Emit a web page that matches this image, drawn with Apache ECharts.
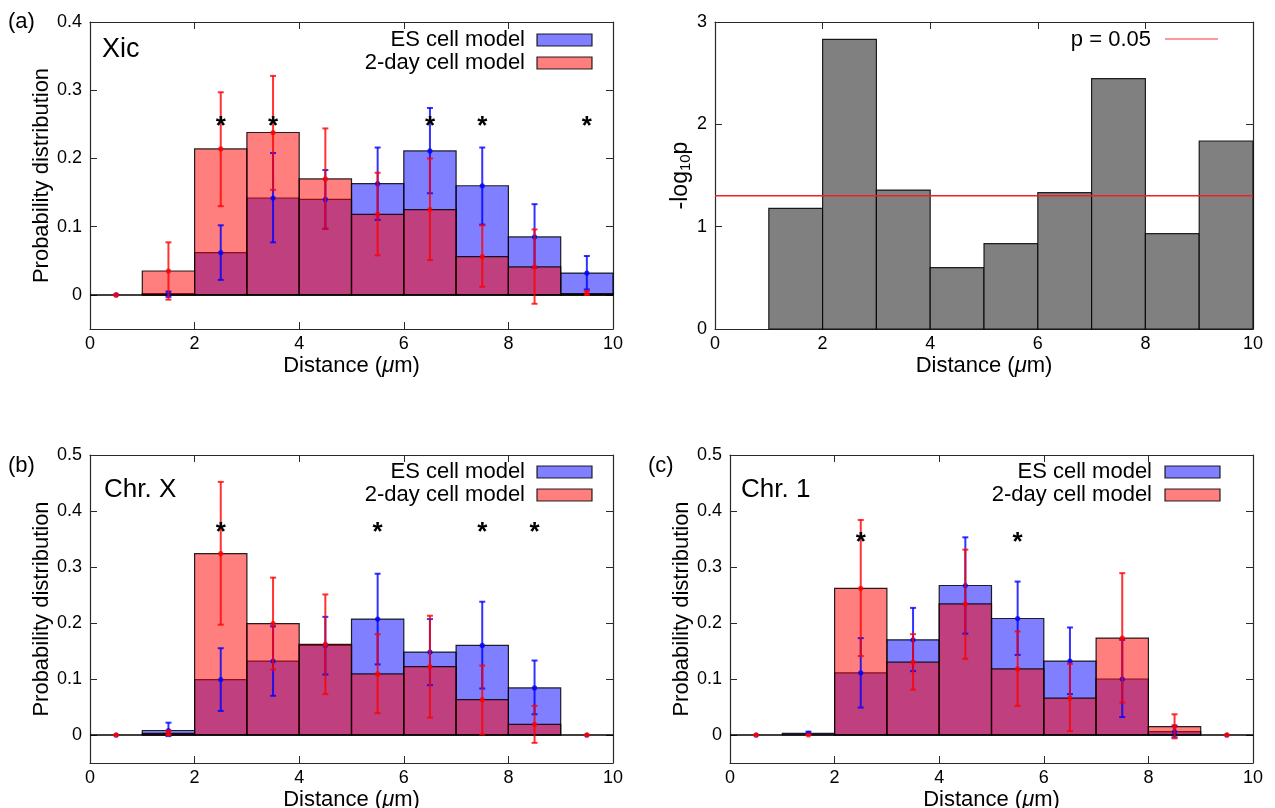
<!DOCTYPE html>
<html>
<head>
<meta charset="utf-8">
<script src="https://cdn.jsdelivr.net/npm/echarts@6/dist/echarts.min.js"></script>
<style>
html,body{margin:0;padding:0;background:#fff;}
#chart{width:1275px;height:808px;}
</style>
</head>
<body>
<div id="chart"></div>
<script>
// ---------------- data ----------------
const binLeft = [0, 1, 2, 3, 4, 5, 6, 7, 8, 9];
const binWidth = 1;
const binCenter = [0.5, 1.5, 2.5, 3.5, 4.5, 5.5, 6.5, 7.5, 8.5, 9.5];

// (a) Xic
const aES    = [0, 0.002, 0.062, 0.142, 0.140, 0.163, 0.211, 0.160, 0.085, 0.032];
const aESlo  = [0, -0.003, 0.022, 0.077, 0.097, 0.110, 0.149, 0.103, 0.040, 0.008];
const aEShi  = [0, 0.005, 0.102, 0.208, 0.183, 0.216, 0.274, 0.216, 0.133, 0.057];
const a2d    = [0, 0.035, 0.214, 0.238, 0.170, 0.118, 0.125, 0.056, 0.041, 0.002];
const a2dlo  = [0, -0.007, 0.130, 0.154, 0.097, 0.058, 0.051, 0.012, -0.013, 0.000];
const a2dhi  = [0, 0.077, 0.297, 0.321, 0.244, 0.179, 0.200, 0.102, 0.096, 0.006];
const aStarX = [2.5, 3.5, 6.5, 7.5, 9.5];
const aStarY = 0.255;

// -log10 p (Xic)
const pVals = [0, 1.179, 2.831, 1.358, 0.599, 0.834, 1.332, 2.446, 0.932, 1.837];
const pThreshold = 1.301; // p = 0.05

// (b) Chr. X
const bES    = [0, 0.008, 0.099, 0.132, 0.160, 0.207, 0.148, 0.160, 0.084, 0];
const bESlo  = [0, -0.002, 0.043, 0.070, 0.108, 0.126, 0.089, 0.083, 0.037, 0];
const bEShi  = [0, 0.022, 0.155, 0.194, 0.211, 0.288, 0.207, 0.238, 0.133, 0];
const b2d    = [0, 0.003, 0.324, 0.199, 0.162, 0.109, 0.122, 0.063, 0.019, 0];
const b2dlo  = [0, 0.000, 0.197, 0.117, 0.073, 0.039, 0.031, 0.001, -0.014, 0];
const b2dhi  = [0, 0.008, 0.452, 0.281, 0.251, 0.180, 0.213, 0.124, 0.052, 0];
const bStarX = [2.5, 5.5, 7.5, 8.5];
const bStarY = 0.372;

// (c) Chr. 1
const cES    = [0, 0.003, 0.111, 0.170, 0.267, 0.208, 0.132, 0.100, 0.006, 0];
const cESlo  = [0, 0.000, 0.049, 0.114, 0.181, 0.143, 0.073, 0.032, -0.004, 0];
const cEShi  = [0, 0.006, 0.173, 0.227, 0.353, 0.274, 0.192, 0.170, 0.017, 0];
const c2d    = [0, 0, 0.262, 0.130, 0.234, 0.118, 0.066, 0.173, 0.015, 0];
const c2dlo  = [0, 0, 0.141, 0.081, 0.136, 0.052, 0.007, 0.058, -0.006, 0];
const c2dhi  = [0, 0, 0.384, 0.180, 0.331, 0.185, 0.127, 0.289, 0.037, 0];
const cStarX = [2.5, 5.5];
const cStarY = 0.354;

const xTicks = [0, 2, 4, 6, 8, 10];
const yTicksA = [0, 0.1, 0.2, 0.3, 0.4];
const yTicksBC = [0, 0.1, 0.2, 0.3, 0.4, 0.5];
const yTicksP = [0, 1, 2, 3];

// ---------------- styles ----------------
const FONT = 'Liberation Sans, Arial, Helvetica, sans-serif';
const FRAME = '#2a2a2a';
const BLUE_FILL = 'rgba(0,0,255,0.5)';
const RED_FILL = 'rgba(255,0,0,0.5)';
const BLUE = 'rgba(0,0,255,0.8)';
const RED = 'rgba(255,0,0,0.8)';

const chart = echarts.init(document.getElementById('chart'), null, {renderer: 'canvas'});

const grids = [
  {left: 90, top: 22, width: 523, height: 307},   // a
  {left: 715, top: 22, width: 538, height: 307},  // p
  {left: 90, top: 455, width: 523, height: 308},  // b
  {left: 730, top: 455, width: 523, height: 308}  // c
].map(g => Object.assign({outerBoundsMode: 'none', containLabel: false, show: false}, g));

const distName = '{n|Distance (}{i|μ}{n|m)}';
const distRich = {
  n: {fontSize: 22, fontFamily: FONT, color: '#000'},
  i: {fontSize: 22, fontFamily: FONT, color: '#000', fontStyle: 'italic'}
};

function xAxes(g) {
  return [
    {
      type: 'value', gridIndex: g, min: 0, max: 10, interval: 2, position: 'bottom',
      axisLine: {show: true, onZero: false, lineStyle: {color: FRAME, width: 1.2}},
      axisTick: {show: true, inside: true, length: 7, lineStyle: {color: FRAME}},
      axisLabel: {show: true, fontSize: 18, fontFamily: FONT, color: '#000', margin: 6,
                  customValues: xTicks, formatter: v => String(v)},
      splitLine: {show: false},
      name: distName, nameLocation: 'middle', nameGap: 26,
      nameTextStyle: {fontSize: 22, fontFamily: FONT, color: '#000', rich: distRich}
    },
    {
      type: 'value', gridIndex: g, min: 0, max: 10, interval: 2, position: 'top',
      axisLine: {show: true, onZero: false, lineStyle: {color: FRAME, width: 1.2}},
      axisTick: {show: true, inside: true, length: 7, lineStyle: {color: FRAME}},
      axisLabel: {show: false}, splitLine: {show: false}
    }
  ];
}

function yAxes(g, min, max, ticks, name, nameGap, fmt, rich) {
  return [
    {
      type: 'value', gridIndex: g, min: min, max: max, position: 'left',
      axisLine: {show: true, onZero: false, lineStyle: {color: FRAME, width: 1.2}},
      axisTick: {show: true, inside: true, length: 7, customValues: ticks, lineStyle: {color: FRAME}},
      axisLabel: {show: true, fontSize: 18, fontFamily: FONT, color: '#000', margin: 8,
                  customValues: ticks, formatter: fmt},
      splitLine: {show: false},
      name: name, nameLocation: 'middle', nameGap: nameGap, nameRotate: 90,
      nameTextStyle: Object.assign({fontSize: 22, fontFamily: FONT, color: '#000'}, rich ? {rich: rich} : {})
    },
    {
      type: 'value', gridIndex: g, min: min, max: max, position: 'right',
      axisLine: {show: true, onZero: false, lineStyle: {color: FRAME, width: 1.2}},
      axisTick: {show: true, inside: true, length: 7, customValues: ticks, lineStyle: {color: FRAME}},
      axisLabel: {show: false}, splitLine: {show: false}
    }
  ];
}

const probFmt = v => (Math.abs(v) < 1e-9 ? '0' : v.toFixed(1));

const xAxis = [].concat(xAxes(0), xAxes(1), xAxes(2), xAxes(3));
const yAxis = [].concat(
  yAxes(0, -0.05, 0.4, yTicksA, 'Probability distribution', 36, probFmt),
  yAxes(1, 0, 3, yTicksP, '{n|-log}{s|10}{n|p}', 22, v => String(v), {
    n: {fontSize: 23, fontFamily: FONT, color: '#000'},
    s: {fontSize: 15, fontFamily: FONT, color: '#000', padding: [9, 0, 0, 0]}
  }),
  yAxes(2, -0.05, 0.5, yTicksBC, 'Probability distribution', 36, probFmt),
  yAxes(3, -0.05, 0.5, yTicksBC, 'Probability distribution', 36, probFmt)
);

function barSeries(g, name, vals, fill, z) {
  return {
    type: 'custom', name: name, xAxisIndex: 2 * g, yAxisIndex: 2 * g, z: z, silent: true,
    data: vals.map((v, i) => [binLeft[i], binLeft[i] + binWidth, v]),
    encode: {x: [0, 1], y: 2},
    renderItem: function (params, api) {
      const v = api.value(2);
      if (!v) return null;
      const p0 = api.coord([api.value(0), v]);
      const p1 = api.coord([api.value(1), 0]);
      return {
        type: 'rect',
        shape: {x: p0[0], y: Math.min(p0[1], p1[1]), width: p1[0] - p0[0], height: Math.abs(p1[1] - p0[1])},
        style: {fill: fill, stroke: 'rgba(0,0,0,0.85)', lineWidth: 1.2}
      };
    }
  };
}

function errSeries(g, name, vals, lo, hi, color, z) {
  return {
    type: 'custom', name: name, xAxisIndex: 2 * g, yAxisIndex: 2 * g, z: z, silent: true,
    data: vals.map((v, i) => [binCenter[i], v, lo[i], hi[i]]),
    encode: {x: 0, y: [1, 2, 3]},
    renderItem: function (params, api) {
      const x = api.value(0);
      const pc = api.coord([x, api.value(1)]);
      const pl = api.coord([x, api.value(2)]);
      const ph = api.coord([x, api.value(3)]);
      const cap = 3;
      const ls = {stroke: color, lineWidth: 2};
      return {
        type: 'group',
        children: [
          {type: 'line', shape: {x1: pc[0], y1: pl[1], x2: pc[0], y2: ph[1]}, style: ls},
          {type: 'line', shape: {x1: pc[0] - cap, y1: pl[1], x2: pc[0] + cap, y2: pl[1]}, style: ls},
          {type: 'line', shape: {x1: pc[0] - cap, y1: ph[1], x2: pc[0] + cap, y2: ph[1]}, style: ls},
          {type: 'circle', shape: {cx: pc[0], cy: pc[1], r: 2.6}, style: {fill: color}}
        ]
      };
    }
  };
}

function starSeries(g, xs, y) {
  return {
    type: 'custom', xAxisIndex: 2 * g, yAxisIndex: 2 * g, z: 20, silent: true,
    data: xs.map(x => [x, y]),
    encode: {x: 0, y: 1},
    renderItem: function (params, api) {
      const p = api.coord([api.value(0), api.value(1)]);
      return {
        type: 'text', x: p[0], y: p[1] + 6,
        style: {text: '*', fill: '#000', font: 'bold 26px ' + FONT, align: 'center', verticalAlign: 'middle'}
      };
    }
  };
}

function zeroLine(g) {
  return {
    type: 'line', xAxisIndex: 2 * g, yAxisIndex: 2 * g, z: 15, silent: true, symbol: 'none',
    data: [[xTicks[0], 0], [xTicks[xTicks.length - 1], 0]],
    lineStyle: {color: '#000', width: 1.5}
  };
}

const series = [
  // (a)
  barSeries(0, 'ES cell model', aES, BLUE_FILL, 2),
  barSeries(0, '2-day cell model', a2d, RED_FILL, 3),
  zeroLine(0),
  errSeries(0, 'ES err', aES, aESlo, aEShi, BLUE, 16),
  errSeries(0, '2d err', a2d, a2dlo, a2dhi, RED, 17),
  starSeries(0, aStarX, aStarY),
  // p-values
  barSeries(1, '-log10p', pVals, '#808080', 2),
  {
    type: 'line', xAxisIndex: 2, yAxisIndex: 2, z: 10, silent: true, symbol: 'none',
    data: [[xTicks[0], pThreshold], [xTicks[xTicks.length - 1], pThreshold]],
    lineStyle: {color: '#ee2222', width: 1.5}
  },
  // (b)
  barSeries(2, 'ES cell model', bES, BLUE_FILL, 2),
  barSeries(2, '2-day cell model', b2d, RED_FILL, 3),
  zeroLine(2),
  errSeries(2, 'ES err', bES, bESlo, bEShi, BLUE, 16),
  errSeries(2, '2d err', b2d, b2dlo, b2dhi, RED, 17),
  starSeries(2, bStarX, bStarY),
  // (c)
  barSeries(3, 'ES cell model', cES, BLUE_FILL, 2),
  barSeries(3, '2-day cell model', c2d, RED_FILL, 3),
  zeroLine(3),
  errSeries(3, 'ES err', cES, cESlo, cEShi, BLUE, 16),
  errSeries(3, '2d err', c2d, c2dlo, c2dhi, RED, 17),
  starSeries(3, cStarX, cStarY)
];

// legends & labels (graphic)
function legendGroup(rightTextX, y1, swX) {
  return [
    {type: 'text', x: rightTextX, y: y1, style: {text: 'ES cell model', font: '22px ' + FONT, fill: '#000', align: 'right', verticalAlign: 'middle'}},
    {type: 'rect', shape: {x: swX, y: y1 - 6, width: 55, height: 12}, style: {fill: BLUE_FILL, stroke: 'rgba(0,0,0,0.85)', lineWidth: 1.2}},
    {type: 'text', x: rightTextX, y: y1 + 23, style: {text: '2-day cell model', font: '22px ' + FONT, fill: '#000', align: 'right', verticalAlign: 'middle'}},
    {type: 'rect', shape: {x: swX, y: y1 + 17, width: 55, height: 12}, style: {fill: RED_FILL, stroke: 'rgba(0,0,0,0.85)', lineWidth: 1.2}}
  ];
}

const graphic = [].concat(
  [
    {type: 'text', x: 8, y: 22, style: {text: '(a)', font: '22px ' + FONT, fill: '#000', verticalAlign: 'middle'}},
    {type: 'text', x: 8, y: 466, style: {text: '(b)', font: '22px ' + FONT, fill: '#000', verticalAlign: 'middle'}},
    {type: 'text', x: 648, y: 466, style: {text: '(c)', font: '22px ' + FONT, fill: '#000', verticalAlign: 'middle'}},
    {type: 'text', x: 102, y: 50, style: {text: 'Xic', font: '27px ' + FONT, fill: '#000', verticalAlign: 'middle'}},
    {type: 'text', x: 104, y: 490, style: {text: 'Chr. X', font: '26px ' + FONT, fill: '#000', verticalAlign: 'middle'}},
    {type: 'text', x: 741, y: 490, style: {text: 'Chr. 1', font: '26px ' + FONT, fill: '#000', verticalAlign: 'middle'}},
    {type: 'text', x: 1151, y: 40, style: {text: 'p = 0.05', font: '22px ' + FONT, fill: '#000', align: 'right', verticalAlign: 'middle'}},
    {type: 'line', shape: {x1: 1165, y1: 39, x2: 1218, y2: 39}, style: {stroke: '#ff7777', lineWidth: 1.5}}
  ],
  legendGroup(525, 40, 537),
  legendGroup(525, 472, 537),
  legendGroup(1152, 472, 1165)
);

chart.setOption({
  animation: false,
  backgroundColor: '#fff',
  textStyle: {fontFamily: FONT},
  grid: grids,
  xAxis: xAxis,
  yAxis: yAxis,
  series: series,
  graphic: graphic
});
</script>
</body>
</html>
